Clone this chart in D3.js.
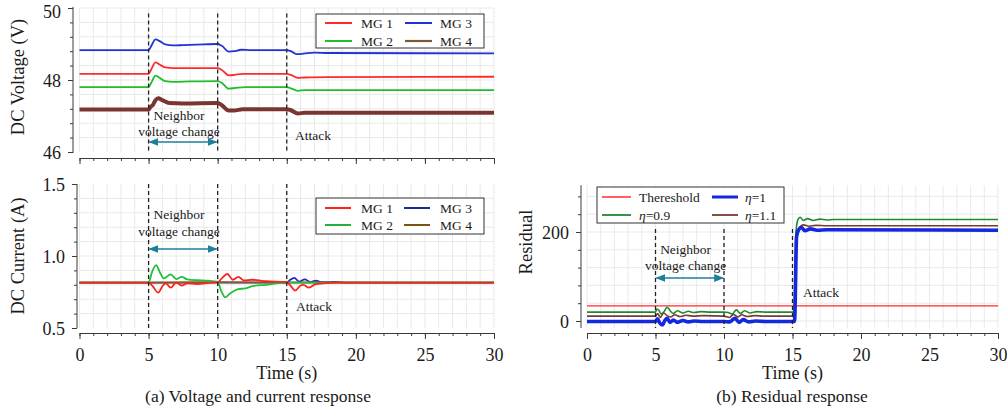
<!DOCTYPE html>
<html><head><meta charset="utf-8">
<script src="https://cdn.jsdelivr.net/npm/d3@7"></script>
<style>
body{margin:0;background:#fff}
svg{display:block}
text{font-family:"Liberation Serif","Times New Roman",serif;fill:#1a1a1a}
</style>
</head><body><svg id="c" width="1007" height="411"></svg>
<script>
// ---------------- DATA ----------------
const timeTicks = [0, 5, 10, 15, 20, 25, 30];
const voltageTicks = [46, 48, 50];
const currentTicks = [0.5, 1.0, 1.5];
const residualTicks = [0, 200];
const eventTimes = [5, 10, 15];

const mgNames = ["MG 1", "MG 2", "MG 3", "MG 4"];
const resNames = ["Thereshold", "η=0.9", "η=1", "η=1.1"];

// DC voltage (V) vs time (s)
const vMG1 = [[0,48.17],[5,48.17],[5.2,48.30],[5.5,48.49],[5.8,48.43],[6.2,48.35],[6.8,48.33],[8,48.33],[10,48.33],[10.3,48.28],[10.8,48.13],[11.2,48.14],[11.8,48.17],[13,48.17],[15,48.17],[15.3,48.14],[15.8,48.06],[16.3,48.07],[18,48.08],[30,48.09]];
const vMG2 = [[0,47.80],[5,47.80],[5.2,47.93],[5.5,48.12],[5.8,48.06],[6.2,47.97],[6.8,47.95],[8,47.96],[10,47.97],[10.3,47.92],[10.8,47.76],[11.3,47.78],[12,47.80],[15,47.80],[15.3,47.77],[15.8,47.70],[16.3,47.72],[30,47.72]];
const vMG3 = [[0,48.83],[5,48.83],[5.2,48.95],[5.5,49.13],[5.8,49.08],[6.2,48.99],[6.8,48.96],[7.5,48.97],[9,48.99],[10,49.00],[10.3,48.95],[10.8,48.79],[11.2,48.80],[11.7,48.84],[12.5,48.83],[15,48.83],[15.3,48.80],[15.7,48.72],[16.2,48.73],[17,48.76],[18,48.75],[30,48.74]];
const vMG4 = [[0,47.18],[5,47.18],[5.15,47.26],[5.3,47.30],[5.5,47.44],[5.7,47.49],[6.0,47.44],[6.5,47.36],[7.5,47.35],[10,47.36],[10.3,47.30],[10.8,47.15],[11.2,47.15],[11.8,47.19],[15,47.19],[15.3,47.16],[15.8,47.07],[16.3,47.09],[30,47.09]];

// DC current (A) vs time (s)
const iMG1 = [[0,0.815],[5,0.815],[5.3,0.79],[5.7,0.745],[6.0,0.79],[6.25,0.81],[6.6,0.78],[7.0,0.815],[7.4,0.795],[7.8,0.81],[8.5,0.805],[9.5,0.815],[10,0.818],[10.3,0.845],[10.7,0.875],[11.1,0.835],[11.5,0.855],[11.9,0.83],[12.5,0.835],[13.5,0.825],[15,0.818],[15.3,0.79],[15.6,0.76],[16.0,0.795],[16.2,0.80],[16.6,0.78],[17.1,0.805],[17.6,0.81],[18.5,0.815],[30,0.815]];
const iMG2 = [[0,0.815],[5,0.815],[5.25,0.89],[5.55,0.937],[5.8,0.89],[6.1,0.845],[6.6,0.873],[7.0,0.84],[7.4,0.855],[7.8,0.838],[8.5,0.832],[9.3,0.828],[10,0.82],[10.25,0.76],[10.55,0.713],[10.9,0.74],[11.5,0.77],[12.0,0.775],[12.5,0.79],[13.5,0.80],[14.5,0.812],[15,0.815],[30,0.815]];
const iMG3 = [[0,0.815],[15,0.815],[15.25,0.835],[15.55,0.848],[15.9,0.822],[16.3,0.838],[16.7,0.82],[17.1,0.828],[17.6,0.818],[18.5,0.82],[19.5,0.815],[30,0.815]];
const iMG4 = [[0,0.815],[5,0.815],[10,0.818],[15,0.816],[30,0.815]];

// Residual vs time (s)
const resThreshold = [[0,34],[30,34]];
const resEta09 = [[0,20],[5,20],[5.1,27],[5.25,24],[5.4,16],[5.6,20],[5.85,31],[6.1,22],[6.3,17],[6.6,23],[7.0,18],[7.4,22],[7.8,19],[8.3,21],[9,20],[10,20],[10.3,19],[10.6,16],[10.9,25],[11.2,17],[11.5,23],[11.9,18],[12.4,21],[13,20],[15,20],[15.1,20],[15.25,200],[15.4,228],[15.55,233],[15.8,226],[16.1,230],[16.5,226],[17,229],[17.5,227],[18,228],[30,228]];
const resEta1 = [[0,-1],[5,-1],[5.15,5],[5.3,-4],[5.5,-9],[5.7,2],[5.85,6],[6.05,-3],[6.3,2],[6.6,-3],[7.0,1],[7.4,-2],[7.8,0],[8.5,-1],[10,-1],[10.4,-2],[10.8,6],[11.1,-3],[11.4,3],[11.8,-2],[12.3,0],[13,-1],[15,-1],[15.15,-1],[15.3,190],[15.45,205],[15.65,210],[15.9,203],[16.3,207],[16.8,204],[17.5,205],[30,204]];
const resEta11 = [[0,11],[5,11],[5.15,17],[5.35,8],[5.6,18],[5.85,12],[6.1,9],[6.4,14],[6.8,10],[7.2,13],[7.7,11],[8.5,12],[10,11],[10.4,8],[10.7,15],[11.0,9],[11.3,14],[11.7,10],[12.2,12],[13,11],[15,11],[15.1,11],[15.3,195],[15.5,210],[15.8,216],[16.2,213],[16.7,215],[17.5,214],[30,214]];

// ---------------- DRAW ----------------
const svg = d3.select("#c");
const AX = "#3a3a3a", GRID = "#e6e6e6", TEAL = "#1c7f9c";

const xA = d3.scaleLinear().domain([0, 30]).range([79.5, 494]);
const yV = d3.scaleLinear().domain([46, 50]).range([152, 8]);
const yI = d3.scaleLinear().domain([0.5, 1.5]).range([328, 184]);
const xB = d3.scaleLinear().domain([0, 30]).range([587, 998]);
const yR = d3.scaleLinear().domain([0, 200]).range([321, 232]);

const defs = svg.append("defs");
defs.append("marker").attr("id","ah").attr("viewBox","0 0 10 10").attr("refX",9).attr("refY",5)
  .attr("markerWidth",7).attr("markerHeight",7).attr("orient","auto-start-reverse")
  .append("path").attr("d","M0,1 L10,5 L0,9 Z").attr("fill",TEAL);

function grid(x, y, xv, yv, yLo, yHi) {
  const g = svg.append("g");
  g.selectAll(".gv").data(xv).join("line")
    .attr("x1", d => x(d)).attr("x2", d => x(d)).attr("y1", y(yLo)).attr("y2", y(yHi))
    .attr("stroke", GRID).attr("stroke-width", 0.9);
  g.selectAll(".gh").data(yv).join("line")
    .attr("x1", x.range()[0]).attr("x2", x.range()[1]).attr("y1", d => y(d)).attr("y2", d => y(d))
    .attr("stroke", GRID).attr("stroke-width", 0.9);
}

function styleAxis(g) {
  g.selectAll("path, line").attr("stroke", AX).attr("stroke-width", 1);
  g.selectAll("text").attr("font-size", 18).attr("fill", "#1a1a1a").attr("font-family", "Liberation Serif");
}

function xAxis(x, yPos, labels) {
  const minor = svg.append("g").attr("transform", `translate(0,${yPos})`)
    .call(d3.axisBottom(x).tickValues(d3.range(0, 31, 1)).tickSize(3).tickSizeOuter(0).tickFormat(""));
  styleAxis(minor);
  const major = svg.append("g").attr("transform", `translate(0,${yPos})`)
    .call(d3.axisBottom(x).tickValues(timeTicks).tickSize(6).tickSizeOuter(0).tickPadding(9)
      .tickFormat(labels ? d3.format("d") : ""));
  major.select(".domain").remove();
  styleAxis(major);
}

function yAxis(y, xPos, ticks, minorVals, lo, hi, fmt) {
  const minor = svg.append("g").attr("transform", `translate(${xPos},0)`)
    .call(d3.axisLeft(y).tickValues(minorVals).tickSize(3).tickSizeOuter(0).tickFormat(""));
  minor.select(".domain").attr("d", `M0,${y(lo)}V${y(hi)}`);
  styleAxis(minor);
  const major = svg.append("g").attr("transform", `translate(${xPos},0)`)
    .call(d3.axisLeft(y).tickValues(ticks).tickSize(5).tickPadding(7).tickFormat(fmt));
  major.select(".domain").remove();
  styleAxis(major);
  major.selectAll("text").attr("dy", d => y(d) < 14 ? "0.5em" : "0.36em");
}

function series(x, y, data, color, width) {
  svg.append("path").datum(data)
    .attr("d", d3.line().x(d => x(d[0])).y(d => y(d[1])).curve(d3.curveMonotoneX))
    .attr("fill", "none").attr("stroke", color).attr("stroke-width", width)
    .attr("stroke-linejoin", "round");
}

function events(x, y, lo, hi) {
  svg.append("g").selectAll("line").data(eventTimes).join("line")
    .attr("x1", d => x(d)).attr("x2", d => x(d)).attr("y1", y(hi)).attr("y2", y(lo))
    .attr("stroke", "#222").attr("stroke-width", 1.3).attr("stroke-dasharray", "4,3");
}

function annotate(x, yN, yV2, yArrow, attackX, attackY) {
  svg.append("text").attr("x", x(7.2)).attr("y", yN).attr("text-anchor","middle").attr("font-size",13.5).text("Neighbor");
  svg.append("text").attr("x", x(7.2)).attr("y", yV2).attr("text-anchor","middle").attr("font-size",13.5).text("voltage change");
  svg.append("line").attr("x1", x(eventTimes[0]) + 1).attr("x2", x(eventTimes[1]) - 1)
    .attr("y1", yArrow).attr("y2", yArrow).attr("stroke", TEAL).attr("stroke-width", 1.4)
    .attr("marker-start","url(#ah)").attr("marker-end","url(#ah)");
  svg.append("text").attr("x", attackX).attr("y", attackY).attr("font-size",13.5).text("Attack");
}

function legend(x0, y0, w, h, rows, colX, names, colors, widths) {
  svg.append("rect").attr("x", x0).attr("y", y0).attr("width", w).attr("height", h)
    .attr("fill", "#fff").attr("stroke", "#333").attr("stroke-width", 1);
  names.forEach((n, i) => {
    const col = Math.floor(i / 2), row = i % 2;
    const cx = colX[col];
    svg.append("line").attr("x1", cx[0]).attr("x2", cx[1]).attr("y1", rows[row]).attr("y2", rows[row])
      .attr("stroke", colors[i]).attr("stroke-width", widths[i]);
    svg.append("text").attr("x", cx[2]).attr("y", rows[row] + 4.5).attr("font-size", 13.5).text(n);
  });
}

// ===== Panel (a) top: voltage =====
grid(xA, yV, d3.range(0, 31, 1), d3.range(46.4, 50, 0.4), 46, 50);
yAxis(yV, 73, voltageTicks, d3.range(46, 50.01, 0.4), 45.97, 50.03, d3.format("d"));
xAxis(xA, 158, false);
const vColors = ["#ff2b2b", "#1fbf2a", "#2233d6", "#7a3530"];
series(xA, yV, vMG4, vColors[3], 4);
series(xA, yV, vMG2, vColors[1], 1.8);
series(xA, yV, vMG1, vColors[0], 1.8);
series(xA, yV, vMG3, vColors[2], 1.8);
events(xA, yV, 46, 49.85);
annotate(xA, 120, 136, 142, 295, 140);
legend(316, 14, 168, 34, [23, 41], [[325,352,361],[405,432,440]], mgNames,
  ["#ff2b2b", "#1fbf2a", "#2233d6", "#7a5a36"], [2, 2, 2, 2.2]);
svg.append("text").attr("transform", "translate(24,77) rotate(-90)").attr("text-anchor","middle")
  .attr("font-size", 18.5).text("DC Voltage (V)");

// ===== Panel (a) bottom: current =====
grid(xA, yI, d3.range(0, 31, 1), d3.range(0.6, 1.5, 0.1), 0.5, 1.5);
yAxis(yI, 77, currentTicks, d3.range(0.5, 1.501, 0.1), 0.5, 1.5, d3.format(".1f"));
xAxis(xA, 333, true);
const iColors = ["#ff2020", "#22c03a", "#1e2ad0", "#8a5a10"];
series(xA, yI, iMG3, iColors[2], 1.8);
series(xA, yI, iMG4, iColors[3], 1.8);
series(xA, yI, iMG2, iColors[1], 1.8);
series(xA, yI, iMG1, iColors[0], 1.8);
events(xA, yI, 0.5, 1.5);
annotate(xA, 219, 236, 249, 296, 311);
legend(316, 198, 168, 36, [208, 225], [[325,351,361],[404,430,440]], mgNames,
  ["#ff2020", "#22b040", "#1a2a9a", "#7a5512"], [2, 2, 2, 2]);
svg.append("text").attr("transform", "translate(24,256) rotate(-90)").attr("text-anchor","middle")
  .attr("font-size", 18.5).text("DC Current (A)");
svg.append("text").attr("x", xA(15)).attr("y", 379).attr("text-anchor","middle").attr("font-size",18).text("Time (s)");
svg.append("text").attr("x", 258).attr("y", 402).attr("text-anchor","middle").attr("font-size",17.5).text("(a) Voltage and current response");

// ===== Panel (b): residual =====
grid(xB, yR, d3.range(0, 31, 1), d3.range(0, 300, 40), -16, 305);
yAxis(yR, 581, residualTicks, d3.range(-40, 305, 40).filter(v => v > -16), -16, 305, d3.format("d"));
xAxis(xB, 333, true);
const rColors = ["#ff2b2b", "#1e8a2e", "#1428e0", "#7a3a30"];
series(xB, yR, resThreshold, rColors[0], 1.3);
series(xB, yR, resEta09, rColors[1], 1.6);
series(xB, yR, resEta11, rColors[3], 1.6);
series(xB, yR, resEta1, rColors[2], 3.6);
svg.append("g").selectAll("line").data(eventTimes).join("line")
  .attr("x1", d => xB(d)).attr("x2", d => xB(d)).attr("y1", yR(207)).attr("y2", yR(-16))
  .attr("stroke", "#222").attr("stroke-width", 1.3).attr("stroke-dasharray", "4,3");
annotate(xB, 254, 270, 278, 803, 297);
legend(597, 187, 187, 36, [197, 215], [[602,631,639],[712,738,745]], resNames,
  rColors, [1.5, 1.8, 3, 1.8]);
svg.append("text").attr("transform", "translate(532,242) rotate(-90)").attr("text-anchor","middle")
  .attr("font-size", 18.5).text("Residual");
svg.append("text").attr("x", xB(15)).attr("y", 379).attr("text-anchor","middle").attr("font-size",18).text("Time (s)");
svg.append("text").attr("x", 792).attr("y", 402).attr("text-anchor","middle").attr("font-size",17.5).text("(b) Residual response");

// italic eta in legend
svg.selectAll("text").filter(function(){ return this.textContent.startsWith("η"); })
  .each(function(){
    const t = d3.select(this), s = this.textContent;
    t.text(null);
    t.append("tspan").attr("font-style","italic").text("η");
    t.append("tspan").text(s.slice(1));
  });
</script>
</body></html>
